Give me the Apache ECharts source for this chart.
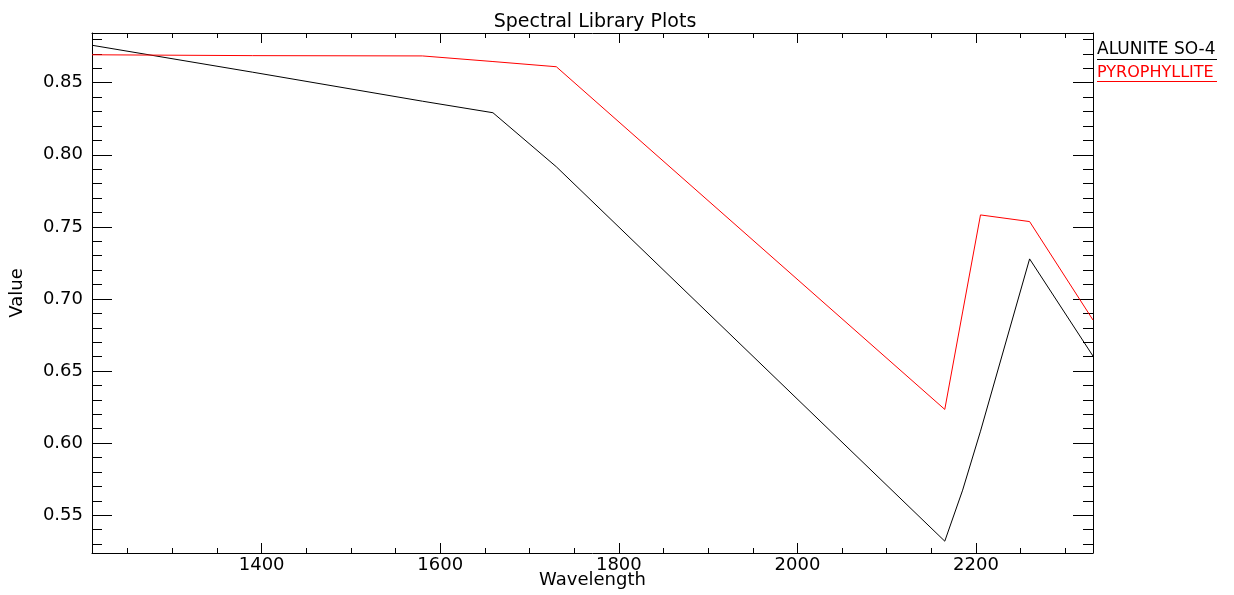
<!DOCTYPE html>
<html>
<head>
<meta charset="utf-8">
<title>Spectral Library Plots</title>
<script src="https://cdn.jsdelivr.net/npm/echarts@6/dist/echarts.min.js"></script>
<style>
  html, body { margin: 0; padding: 0; background: #fff; }
  #main { width: 1234px; height: 595px; }
</style>
</head>
<body>
<div id="main"></div>
<script>
// sample points
var wavelength   = [1210, 1390, 1580, 1659, 1730, 2165, 2185, 2205, 2260, 2331];
var alunite      = [0.876, 0.8573, 0.8372, 0.8292, 0.7917, 0.532, 0.5674, 0.6083, 0.7278, 0.6604];
var pyrophyllite = [0.8694, 0.8688, 0.8686, 0.8647, 0.8611, 0.6234, 0.691, 0.7583, 0.7537, 0.6854];

var xMajorTicks = [1400, 1600, 1800, 2000, 2200];
var xMinorTicks = [1250, 1300, 1350, 1450, 1500, 1550, 1650, 1700, 1750, 1850, 1900, 1950,
                   2050, 2100, 2150, 2250, 2300];
var yMajorTicks = [0.55, 0.60, 0.65, 0.70, 0.75, 0.80, 0.85];
var yMinorTicks = [0.53, 0.54, 0.56, 0.57, 0.58, 0.59, 0.61, 0.62, 0.63, 0.64, 0.66, 0.67,
                   0.68, 0.69, 0.71, 0.72, 0.73, 0.74, 0.76, 0.77, 0.78, 0.79, 0.81, 0.82,
                   0.83, 0.84, 0.86, 0.87, 0.88];

var X_MIN = 1210, X_MAX = 2331;
var Y_MIN = 0.5238, Y_MAX = 0.8845;
var FONT = 'DejaVu Sans';

function pairs(xs, ys) {
  return xs.map(function (x, i) { return [x, ys[i]]; });
}

function xAxisDef(pos, ticks, len, withLabel, showLine) {
  return {
    type: 'value', position: pos, min: X_MIN, max: X_MAX,
    axisLine: { show: showLine, lineStyle: { color: '#000', width: 1 } },
    axisTick: { show: true, inside: true, length: len, customValues: ticks,
                lineStyle: { color: '#000', width: 1 } },
    axisLabel: withLabel ? {
      show: true, customValues: ticks, color: '#000', fontFamily: FONT, fontSize: 18, margin: 3,
      formatter: function (v) { return String(v); }
    } : { show: false },
    splitLine: { show: false }
  };
}

function yAxisDef(pos, ticks, len, withLabel, showLine) {
  return {
    type: 'value', position: pos, min: Y_MIN, max: Y_MAX,
    axisLine: { show: showLine, lineStyle: { color: '#000', width: 1 } },
    axisTick: { show: true, inside: true, length: len, customValues: ticks,
                lineStyle: { color: '#000', width: 1 } },
    axisLabel: withLabel ? {
      show: true, customValues: ticks, color: '#000', fontFamily: FONT, fontSize: 18, margin: 9,
      formatter: function (v) { return v.toFixed(2); }
    } : { show: false },
    splitLine: { show: false }
  };
}

var xAxes = [
  xAxisDef('bottom', xMajorTicks, 10, true, true),
  xAxisDef('bottom', xMinorTicks, 5, false, false),
  xAxisDef('top', xMajorTicks, 10, false, true),
  xAxisDef('top', xMinorTicks, 5, false, false)
];
xAxes[0].name = 'Wavelength';
xAxes[0].nameLocation = 'middle';
xAxes[0].nameGap = 18;
xAxes[0].nameMoveOverlap = false;
xAxes[0].nameTextStyle = { color: '#000', fontFamily: FONT, fontSize: 18 };

var yAxes = [
  yAxisDef('left', yMajorTicks, 20, true, true),
  yAxisDef('left', yMinorTicks, 10, false, false),
  yAxisDef('right', yMajorTicks, 20, false, true),
  yAxisDef('right', yMinorTicks, 10, false, false)
];
yAxes[0].name = 'Value';
yAxes[0].nameLocation = 'middle';
yAxes[0].nameGap = 66;
yAxes[0].nameMoveOverlap = false;
yAxes[0].nameTextStyle = { color: '#000', fontFamily: FONT, fontSize: 18 };

var chart = echarts.init(document.getElementById('main'));
chart.setOption({
  backgroundColor: '#fff',
  animation: false,
  title: {
    text: 'Spectral Library Plots',
    left: 590, top: 8, textAlign: 'center',
    textStyle: { color: '#000', fontFamily: FONT, fontSize: 19, fontWeight: 'normal' }
  },
  grid: { left: 92, right: 141, top: 33, bottom: 42, outerBoundsMode: 'none' },
  xAxis: xAxes,
  yAxis: yAxes,
  series: [{
    name: 'ALUNITE SO-4',
    type: 'line', xAxisIndex: 0, yAxisIndex: 0,
    data: pairs(wavelength, alunite),
    symbol: 'none',
    lineStyle: { color: '#000', width: 1 }
  }, {
    name: 'PYROPHYLLITE',
    type: 'line', xAxisIndex: 0, yAxisIndex: 0,
    data: pairs(wavelength, pyrophyllite),
    symbol: 'none',
    lineStyle: { color: '#ff0000', width: 1 }
  }],
  graphic: [
    { type: 'text', style: { x: 1097, y: 50, text: 'ALUNITE SO-4', fill: '#000',
      font: '17px "DejaVu Sans"', verticalAlign: 'middle' } },
    { type: 'line', shape: { x1: 1097, y1: 59.5, x2: 1217, y2: 59.5 },
      style: { stroke: '#000', lineWidth: 1 } },
    { type: 'text', style: { x: 1097, y: 73, text: 'PYROPHYLLITE', fill: '#ff0000',
      font: '16px "DejaVu Sans"', verticalAlign: 'middle' } },
    { type: 'line', shape: { x1: 1097, y1: 81.5, x2: 1217, y2: 81.5 },
      style: { stroke: '#ff0000', lineWidth: 1 } }
  ]
});
</script>
</body>
</html>
